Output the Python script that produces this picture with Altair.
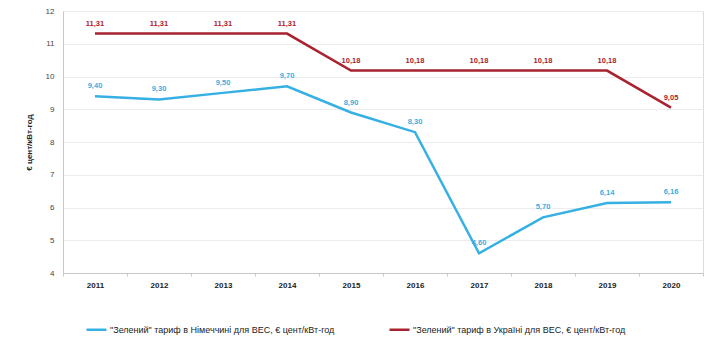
import altair as alt
import pandas as pd

years = ["2011", "2012", "2013", "2014", "2015", "2016", "2017", "2018", "2019", "2020"]
germany = [9.40, 9.30, 9.50, 9.70, 8.90, 8.30, 4.60, 5.70, 6.14, 6.16]
ukraine = [11.31, 11.31, 11.31, 11.31, 10.18, 10.18, 10.18, 10.18, 10.18, 9.05]
s_de = "\"Зелений\" тариф в Німеччині для ВЕС, € цент/кВт-год"
s_ua = "\"Зелений\" тариф в Україні для ВЕС, € цент/кВт-год"
y_ticks = [4, 5, 6, 7, 8, 9, 10, 11, 12]

rows = []
for y, v in zip(years, germany):
    rows.append({"year": y, "value": v, "series": s_de})
for y, v in zip(years, ukraine):
    rows.append({"year": y, "value": v, "series": s_ua})
df = pd.DataFrame(rows)

FONT = "Liberation Sans"
color = alt.Color(
    "series:N",
    scale=alt.Scale(domain=[s_de, s_ua], range=["#36b0e3", "#a8232f"]),
    legend=alt.Legend(
        title=None, orient="none", legendX=22, legendY=307, direction="horizontal",
        symbolType="stroke", symbolStrokeWidth=2.5, symbolSize=400,
        labelFont=FONT, labelFontSize=9, labelColor="#222", labelLimit=400,
        labelOffset=2, columnPadding=49, symbolOffset=0,
    ),
)

x = alt.X("year:O", title=None, sort=years,
          scale=alt.Scale(paddingInner=0, paddingOuter=0),
          axis=alt.Axis(labelAngle=0, labelFont=FONT, labelFontSize=8, labelFontWeight="bold",
                        labelColor="#222", domainColor="#c8c8c8", tickColor="#c8c8c8",
                        tickBand="extent", tickSize=3, labelPadding=5))
y = alt.Y("value:Q", title="€ цент/кВт-год",
          scale=alt.Scale(domain=[4, 12], nice=False, zero=False),
          axis=alt.Axis(values=y_ticks, labelFont=FONT, labelFontSize=8, labelColor="#444",
                        gridColor="#ececec", domainColor="#c8c8c8", ticks=False,
                        labelPadding=9, titleFont=FONT, titleFontSize=8,
                        titleFontWeight="bold", titleColor="#222", titlePadding=12))

base = alt.Chart(df)
lines = base.mark_line(strokeWidth=2.5).encode(x=x, y=y, color=color)
labels = base.mark_text(dy=-10, font=FONT, fontSize=7.5, fontWeight="bold").transform_calculate(
    lab="replace(format(datum.value, '.2f'), '.', ',')"
).encode(x=x, y=y, text="lab:N", color=alt.Color("series:N", scale=alt.Scale(domain=[s_de, s_ua], range=["#36b0e3", "#a8232f"]), legend=None))

chart = (lines + labels).properties(
    width=640, height=262,
    autosize=alt.AutoSizeParams(type="none"),
    padding={"left": 55, "top": 3, "right": 9, "bottom": 76},
).configure_view(stroke=None).configure(background="white")

chart.save("out.html", embed_options={"renderer": "svg", "actions": False})
